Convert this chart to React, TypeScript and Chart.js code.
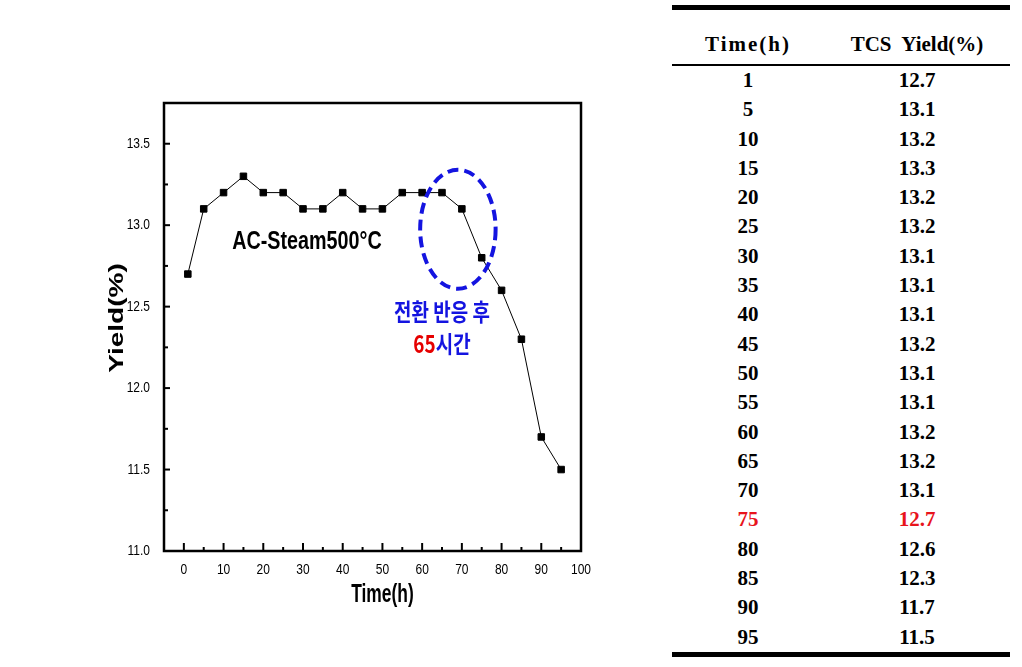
import React, { useEffect, useRef } from "react";
import { Chart, registerables } from "chart.js";

Chart.register(...registerables);

// ---- data ----
const hours = [1, 5, 10, 15, 20, 25, 30, 35, 40, 45, 50, 55, 60, 65, 70, 75, 80, 85, 90, 95];
const plotYield = [12.7, 13.1, 13.2, 13.3, 13.2, 13.2, 13.1, 13.1, 13.2, 13.1, 13.1, 13.2, 13.2, 13.2, 13.1, 12.8, 12.6, 12.3, 11.7, 11.5];
const tableHours = ["1", "5", "10", "15", "20", "25", "30", "35", "40", "45", "50", "55", "60", "65", "70", "75", "80", "85", "90", "95"];
const tableYield = ["12.7", "13.1", "13.2", "13.3", "13.2", "13.2", "13.1", "13.1", "13.1", "13.2", "13.1", "13.1", "13.2", "13.2", "13.1", "12.7", "12.6", "12.3", "11.7", "11.5"];
const highlightRow = "75";
const tableHeaders = ["Time(h)", "TCS  Yield(%)"];

const xMin = -5;
const xMax = 100;
const xStep = 5;
const xLabelStep = 10;
const yMin = 11;
const yMax = 13.75;
const yStep = 0.25;
const yLabelStep = 0.5;

const xTitle = "Time(h)";
const yTitle = "Yield(%)";
const seriesNote = "AC-Steam500\u00B0C";
const noteLine1 = "전환 반응 후";
const noteNum = "65";
const noteUnit = "시간";

// annotation anchors in data units
const seriesNoteAt = { x: 31, y: 12.9 };
const ringAt = { x: 69, y: 12.975, rx: 9.5, ry: 0.365 };
const noteAt = { x: 65, y1: 12.47, y2: 12.27 };

const BLUE = "#1414e0";
const RED = "#e60000";

const isMultiple = (v: number, step: number) => Math.abs(v / step - Math.round(v / step)) < 1e-6;

const drawText = (
  ctx: CanvasRenderingContext2D,
  text: string,
  x: number,
  y: number,
  font: string,
  color: string,
  sx: number,
  align: CanvasTextAlign,
  rotate = 0
) => {
  ctx.save();
  ctx.translate(x, y);
  ctx.scale(sx, 1);
  if (rotate) ctx.rotate(rotate);
  ctx.font = font;
  ctx.fillStyle = color;
  ctx.textAlign = align;
  ctx.textBaseline = "middle";
  ctx.fillText(text, 0, 0);
  ctx.restore();
};

const tickFont = "15px 'Liberation Sans', Arial, sans-serif";

const decorPlugin = {
  id: "decor",
  afterDatasetsDraw(chart: any) {
    const { ctx, chartArea: a, scales } = chart;
    const xs = scales.x;
    const ys = scales.y;
    ctx.save();
    ctx.strokeStyle = "#000";
    ctx.lineWidth = 2;
    xs.ticks.forEach((t: any) => {
      const px = xs.getPixelForValue(t.value);
      const major = isMultiple(t.value, xLabelStep);
      if (major && t.label) drawText(ctx, String(t.label), px, a.bottom + 19, tickFont, "#000", 0.8, "center");
      if (px <= a.left + 1 || px >= a.right - 1) return;
      ctx.beginPath();
      ctx.moveTo(px, a.bottom);
      ctx.lineTo(px, a.bottom - (major ? 8 : 4));
      ctx.stroke();
    });
    ys.ticks.forEach((t: any) => {
      const py = ys.getPixelForValue(t.value);
      const major = isMultiple(t.value, yLabelStep);
      if (major && t.label) drawText(ctx, String(t.label), a.left - 14, py, tickFont, "#000", 0.8, "right");
      if (py <= a.top + 1 || py >= a.bottom - 1) return;
      ctx.beginPath();
      ctx.moveTo(a.left, py);
      ctx.lineTo(a.left + (major ? 6 : 4), py);
      ctx.stroke();
    });
    ctx.lineWidth = 2.5;
    ctx.strokeRect(a.left, a.top, a.right - a.left, a.bottom - a.top);

    // axis titles
    const midX = (a.left + a.right) / 2;
    const midY = (a.top + a.bottom) / 2;
    drawText(ctx, xTitle, midX + 10, a.bottom + 44, "bold 26px 'Liberation Sans', Arial, sans-serif", "#000", 0.67, "center");
    drawText(ctx, yTitle, a.left - 46, midY - 9, "bold 28px 'Liberation Sans', Arial, sans-serif", "#000", 0.7, "center", -Math.PI / 2);

    // series label
    drawText(
      ctx,
      seriesNote,
      xs.getPixelForValue(seriesNoteAt.x),
      ys.getPixelForValue(seriesNoteAt.y),
      "bold 26px 'Liberation Sans', Arial, sans-serif",
      "#000",
      0.76,
      "center"
    );

    // dashed ring
    const cx = xs.getPixelForValue(ringAt.x);
    const cy = ys.getPixelForValue(ringAt.y);
    const rx = Math.abs(xs.getPixelForValue(ringAt.x + ringAt.rx) - cx);
    const ry = Math.abs(ys.getPixelForValue(ringAt.y + ringAt.ry) - cy);
    ctx.beginPath();
    ctx.setLineDash([11, 6]);
    ctx.lineWidth = 4;
    ctx.strokeStyle = BLUE;
    ctx.ellipse(cx, cy, rx, ry, 0, 0, Math.PI * 2);
    ctx.stroke();
    ctx.setLineDash([]);

    // korean note
    const sx = 0.79;
    const nx = xs.getPixelForValue(noteAt.x);
    const kfont = "bold 24px 'Noto Sans CJK KR', sans-serif";
    drawText(ctx, noteLine1, nx, ys.getPixelForValue(noteAt.y1), kfont, BLUE, sx, "center");
    ctx.font = kfont;
    const w1 = ctx.measureText(noteNum).width * sx;
    const w2 = ctx.measureText(noteUnit).width * sx;
    const start = nx - (w1 + w2) / 2;
    const ny = ys.getPixelForValue(noteAt.y2);
    drawText(ctx, noteNum, start, ny, kfont, RED, sx, "left");
    drawText(ctx, noteUnit, start + w1, ny, kfont, BLUE, sx, "left");
    ctx.restore();
  },
};

function ChartPanel() {
  const ref = useRef<HTMLCanvasElement | null>(null);
  useEffect(() => {
    if (!ref.current) return;
    const chart = new Chart(ref.current, {
      type: "line",
      data: {
        datasets: [
          {
            data: hours.map((h, i) => ({ x: h, y: plotYield[i] })),
            borderColor: "#000",
            borderWidth: 1,
            backgroundColor: "#000",
            pointStyle: "rect",
            pointRadius: 4.6,
            pointBorderWidth: 1,
            pointBorderColor: "#000",
            pointBackgroundColor: "#000",
            tension: 0,
          },
        ],
      },
      options: {
        animation: false,
        responsive: false,
        devicePixelRatio: 1,
        layout: { padding: { left: 100, right: 59, top: 103, bottom: 40 } },
        plugins: { legend: { display: false }, tooltip: { enabled: false } },
        scales: {
          x: {
            type: "linear",
            min: xMin,
            max: xMax,
            grid: { display: false, drawTicks: false },
            border: { display: false },
            ticks: {
              stepSize: xStep,
              autoSkip: false,
              maxRotation: 0,
              color: "rgba(0,0,0,0)",
              font: { size: 14 },
              callback: (v: any) => (isMultiple(Number(v), xLabelStep) ? String(v) : ""),
            },
            title: { display: false, text: xTitle },
            afterFit: (s: any) => {
              s.height = 76;
            },
          },
          y: {
            type: "linear",
            min: yMin,
            max: yMax,
            grid: { display: false, drawTicks: false },
            border: { display: false },
            ticks: {
              stepSize: yStep,
              autoSkip: false,
              color: "rgba(0,0,0,0)",
              font: { size: 14 },
              callback: (v: any) => (isMultiple(Number(v), yLabelStep) ? Number(v).toFixed(1) : ""),
            },
            title: { display: false, text: yTitle },
            afterFit: (s: any) => {
              s.width = 64;
            },
          },
        },
      } as any,
      plugins: [decorPlugin],
    });
    return () => chart.destroy();
  }, []);
  return <canvas ref={ref} width={640} height={667} style={{ position: "absolute", left: 0, top: 0, width: 640, height: 667 }} />;
}

function DataTable() {
  const rowH = 29.3;
  return (
    <div
      style={{
        position: "absolute",
        left: 672,
        top: 5,
        width: 338,
        borderTop: "5px solid #000",
        borderBottom: "5px solid #000",
        fontFamily: "'Liberation Serif', 'DejaVu Serif', serif",
        fontWeight: "bold",
        fontSize: 21,
        color: "#000",
      }}
    >
      <div style={{ display: "flex", height: 56, boxSizing: "border-box", paddingTop: 13, lineHeight: "43px", borderBottom: "2px solid #000" }}>
        <div style={{ width: 152, textAlign: "center", whiteSpace: "pre", letterSpacing: 2 }}>{tableHeaders[0]}</div>
        <div style={{ width: 186, textAlign: "center", whiteSpace: "pre" }}>{tableHeaders[1]}</div>
      </div>
      {tableHours.map((h, i) => (
        <div key={h} style={{ display: "flex", height: rowH, lineHeight: rowH + "px", color: h === highlightRow ? "#e8141c" : "#000" }}>
          <div style={{ width: 152, textAlign: "center" }}>{h}</div>
          <div style={{ width: 186, textAlign: "center" }}>{tableYield[i]}</div>
        </div>
      ))}
    </div>
  );
}

export default function App() {
  return (
    <div style={{ position: "absolute", left: 0, top: 0, width: 1022, height: 667, background: "#fff", overflow: "hidden" }}>
      <ChartPanel />
      <DataTable />
    </div>
  );
}
